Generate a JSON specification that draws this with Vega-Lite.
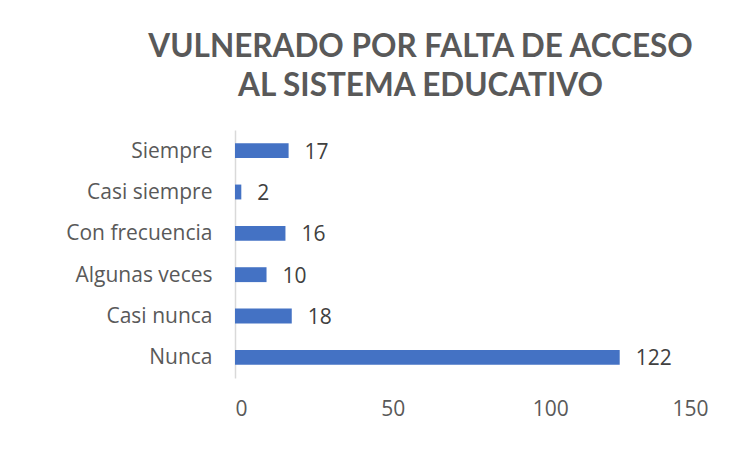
{
  "$schema": "https://vega.github.io/schema/vega-lite/v6.json",
  "autosize": "none",
  "width": 473,
  "height": 248,
  "padding": {"left": 235, "top": 130, "right": 33, "bottom": 83},
  "background": "white",
  "config": {"view": {"stroke": null}},
  "title": {
    "text": ["VULNERADO POR FALTA DE ACCESO", "AL SISTEMA EDUCATIVO"],
    "font": "Lato",
    "fontSize": 31.5,
    "fontWeight": "bold",
    "color": "#595959",
    "anchor": "middle",
    "frame": "group",
    "dx": -51,
    "offset": 28,
    "lineHeight": 39
  },
  "data": {
    "values": [
      {"categoria": "Siempre", "valor": 17},
      {"categoria": "Casi siempre", "valor": 2},
      {"categoria": "Con frecuencia", "valor": 16},
      {"categoria": "Algunas veces", "valor": 10},
      {"categoria": "Casi nunca", "valor": 18},
      {"categoria": "Nunca", "valor": 122}
    ]
  },
  "encoding": {
    "y": {
      "field": "categoria",
      "type": "nominal",
      "sort": null,
      "scale": {"paddingInner": 0.64, "paddingOuter": 0.32},
      "axis": {
        "title": null,
        "ticks": false,
        "domainColor": "#d9d9d9",
        "domainWidth": 1.5,
        "labelFont": "Open Sans",
        "labelFontSize": 21,
        "labelColor": "#595959",
        "labelPadding": 23,
        "labelOffset": 1
      }
    },
    "x": {
      "field": "valor",
      "type": "quantitative",
      "scale": {"domain": [0, 150], "nice": false},
      "axis": {
        "title": null,
        "values": [0, 50, 100, 150],
        "domain": false,
        "ticks": false,
        "grid": false,
        "labelFont": "Open Sans",
        "labelFontSize": 21,
        "labelColor": "#595959",
        "labelPadding": 20
      }
    }
  },
  "layer": [
    {"mark": {"type": "bar", "color": "#4472c4"}},
    {
      "mark": {"type": "text", "align": "left", "dx": 16, "font": "Open Sans", "fontSize": 21, "color": "#404040", "baseline": "middle", "dy": 2},
      "encoding": {"text": {"field": "valor", "type": "quantitative"}}
    }
  ]
}
